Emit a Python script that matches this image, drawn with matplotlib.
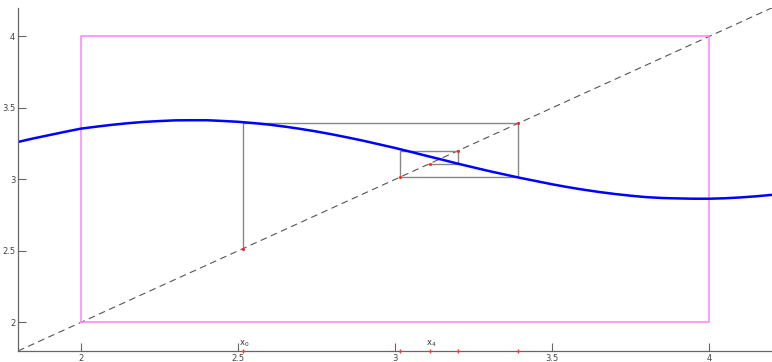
import numpy as np
import matplotlib.pyplot as plt

# blue curve g(x)
curve_x = [1.8, 1.85, 1.9, 1.95, 2.0, 2.05, 2.1, 2.15, 2.2, 2.25, 2.3, 2.35,
           2.4, 2.45, 2.5, 2.55, 2.6, 2.65, 2.7, 2.75, 2.8, 2.85, 2.9, 2.95,
           3.0, 3.05, 3.1, 3.15, 3.2, 3.25, 3.3, 3.35, 3.4, 3.45, 3.5, 3.55,
           3.6, 3.65, 3.7, 3.75, 3.8, 3.85, 3.9, 3.95, 4.0, 4.05, 4.1, 4.15,
           4.2]
curve_y = [3.262, 3.287, 3.310, 3.333, 3.355, 3.369, 3.382, 3.393, 3.402,
           3.408, 3.413, 3.414, 3.414, 3.409, 3.403, 3.394, 3.383, 3.369,
           3.353, 3.335, 3.315, 3.293, 3.270, 3.245, 3.220, 3.193, 3.165,
           3.138, 3.110, 3.084, 3.058, 3.034, 3.010, 2.988, 2.966, 2.946,
           2.928, 2.912, 2.898, 2.886, 2.876, 2.870, 2.867, 2.865, 2.865,
           2.868, 2.874, 2.882, 2.892]

# fixed point iterates x0 .. x4
iterates = [2.515, 3.393, 3.017, 3.200, 3.110]
labelled = {0: 'x$_0$', 4: 'x$_4$'}

box_x = [2, 4, 4, 2, 2]
box_y = [2, 2, 4, 4, 2]
lims = [1.8, 4.2]
ticks = [2, 2.5, 3, 3.5, 4]
tick_labels = ['2', '2.5', '3', '3.5', '4']

fig = plt.figure(figsize=(7.72, 3.62), dpi=100)
ax = fig.add_axes([0.0233, 0.0304, 0.9767, 0.948])

ax.plot(lims, lims, color='#555555', lw=0.8, ls=(0, (6, 4)))
ax.plot(box_x, box_y, color='#ff80ff', lw=1.1)

# cobweb path
px, py = [iterates[0]], [iterates[0]]
for a, b in zip(iterates[:-1], iterates[1:]):
    px += [a, b]
    py += [b, b]
ax.plot(px, py, color='#888888', lw=1.0)

ax.plot(curve_x, curve_y, color='#0000ff', lw=1.8)

ax.plot(iterates, iterates, ls='none', marker='o', ms=2.2, color='#ff2020',
        mec='none')
ax.plot(iterates, [lims[0]] * len(iterates), ls='none', marker='+', ms=3.5,
        mew=0.9, color='#ff3030', clip_on=False, zorder=5)
for i, txt in labelled.items():
    ax.text(iterates[i] - 0.01, lims[0] + 0.012, txt, fontsize=6,
            color='#333333', ha='left', va='bottom')

ax.set_xlim(lims)
ax.set_ylim(lims)
ax.set_xticks(ticks)
ax.set_xticklabels(tick_labels)
ax.set_yticks(ticks)
ax.set_yticklabels(tick_labels)
ax.tick_params(direction='in', length=6, width=0.8, color='#666666',
               labelsize=6, labelcolor='#444444', pad=2)
for side in ['top', 'right']:
    ax.spines[side].set_visible(False)
for side in ['left', 'bottom']:
    ax.spines[side].set_color('#666666')
    ax.spines[side].set_linewidth(0.9)

fig.savefig('out.png', dpi=100)
